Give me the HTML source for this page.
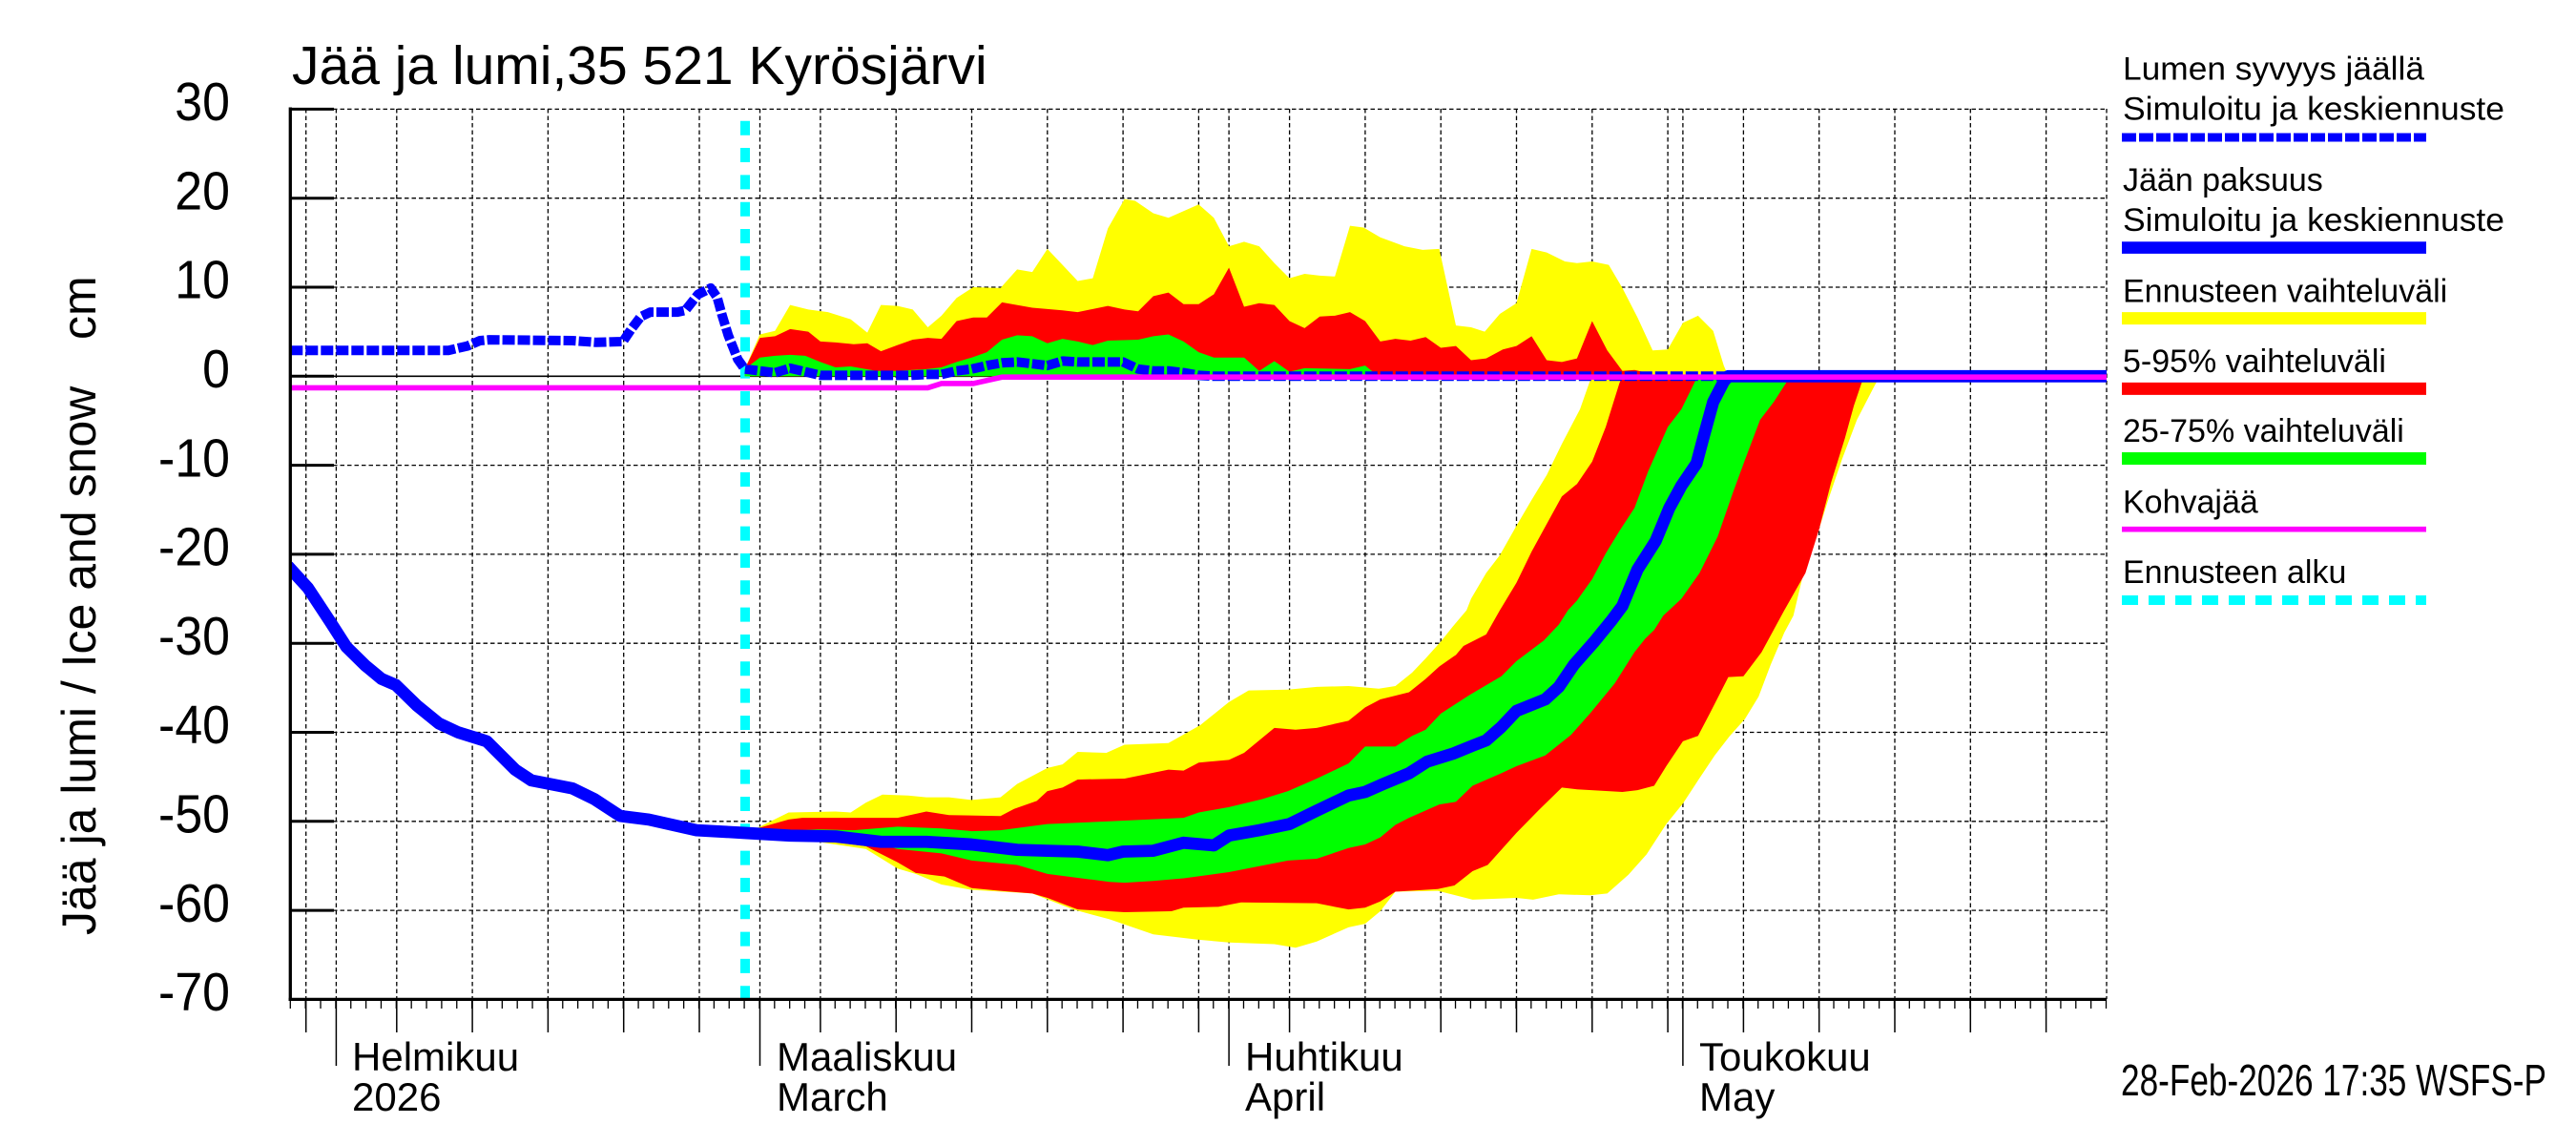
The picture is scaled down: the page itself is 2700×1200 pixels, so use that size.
<!DOCTYPE html>
<html>
<head>
<meta charset="utf-8">
<style>
html,body{margin:0;padding:0;background:#fff;}
svg{display:block;}
text{font-family:"Liberation Sans",Arial,sans-serif;fill:#000;}
</style>
</head>
<body>
<svg xmlns="http://www.w3.org/2000/svg" width="2700" height="1200" viewBox="0 0 2700 1200">
<defs>
<clipPath id="plot"><rect x="304" y="110" width="1904" height="938"/></clipPath>
</defs>
<rect width="2700" height="1200" fill="#fff"/>

<!-- horizontal grid -->
<g stroke="#000" stroke-width="1.3" stroke-dasharray="4.5 3" fill="none">
<line x1="304" y1="114.4" x2="2208" y2="114.4"/>
<line x1="304" y1="207.7" x2="2208" y2="207.7"/>
<line x1="304" y1="301" x2="2208" y2="301"/>
<line x1="304" y1="487.6" x2="2208" y2="487.6"/>
<line x1="304" y1="580.9" x2="2208" y2="580.9"/>
<line x1="304" y1="674.2" x2="2208" y2="674.2"/>
<line x1="304" y1="767.5" x2="2208" y2="767.5"/>
<line x1="304" y1="860.8" x2="2208" y2="860.8"/>
<line x1="304" y1="954.1" x2="2208" y2="954.1"/>
</g>
<!-- vertical grid -->
<g stroke="#000" stroke-width="1.3" stroke-dasharray="4.5 3" fill="none">
<line x1="320.7" y1="114" x2="320.7" y2="1047"/>
<line x1="352.4" y1="114" x2="352.4" y2="1047"/>
<line x1="415.8" y1="114" x2="415.8" y2="1047"/>
<line x1="495.1" y1="114" x2="495.1" y2="1047"/>
<line x1="574.4" y1="114" x2="574.4" y2="1047"/>
<line x1="653.7" y1="114" x2="653.7" y2="1047"/>
<line x1="733" y1="114" x2="733" y2="1047"/>
<line x1="796.5" y1="114" x2="796.5" y2="1047"/>
<line x1="859.9" y1="114" x2="859.9" y2="1047"/>
<line x1="939.2" y1="114" x2="939.2" y2="1047"/>
<line x1="1018.5" y1="114" x2="1018.5" y2="1047"/>
<line x1="1097.8" y1="114" x2="1097.8" y2="1047"/>
<line x1="1177.1" y1="114" x2="1177.1" y2="1047"/>
<line x1="1256.4" y1="114" x2="1256.4" y2="1047"/>
<line x1="1288.1" y1="114" x2="1288.1" y2="1047"/>
<line x1="1351.6" y1="114" x2="1351.6" y2="1047"/>
<line x1="1430.9" y1="114" x2="1430.9" y2="1047"/>
<line x1="1510.2" y1="114" x2="1510.2" y2="1047"/>
<line x1="1589.5" y1="114" x2="1589.5" y2="1047"/>
<line x1="1668.8" y1="114" x2="1668.8" y2="1047"/>
<line x1="1748.1" y1="114" x2="1748.1" y2="1047"/>
<line x1="1763.9" y1="114" x2="1763.9" y2="1047"/>
<line x1="1827.4" y1="114" x2="1827.4" y2="1047"/>
<line x1="1906.7" y1="114" x2="1906.7" y2="1047"/>
<line x1="1986" y1="114" x2="1986" y2="1047"/>
<line x1="2065.3" y1="114" x2="2065.3" y2="1047"/>
<line x1="2144.6" y1="114" x2="2144.6" y2="1047"/>
<line x1="2208" y1="114" x2="2208" y2="1047"/>
</g>

<!-- zero line -->
<line x1="304" y1="394.3" x2="2208" y2="394.3" stroke="#000" stroke-width="1.6"/>

<!-- forecast start -->
<line x1="781" y1="126.7" x2="781" y2="1047" stroke="#00ffff" stroke-width="10" stroke-dasharray="15 13.33"/>

<g clip-path="url(#plot)">
<g transform="translate(780.6 394.3) scale(15.86 -9.33)">
<!-- upper (snow) bands -->
<path fill="#ffff00" d="M0,0 L0,0.8 L1,4.7 L2,5.1 L3,8.0 L4.2,7.5 L5.5,7.2 L7,6.4 L8.1,4.9 L9,8.0 L10.1,7.9 L11.1,7.5 L12.1,5.5 L13,6.8 L14,8.8 L15.1,10 L16.9,9.9 L18,12 L19,11.7 L20,14.3 L21,12.5 L22,10.7 L23,11 L24,16.6 L25.1,19.9 L25.8,19.7 L27,18.3 L28,17.8 L30,19.3 L31,17.8 L32,14.6 L33,15.1 L34,14.6 L35,12.7 L36,11 L37,11.5 L38,11.3 L39,11.2 L40,16.9 L40.9,16.7 L42,15.6 L43.6,14.6 L44.8,14.2 L45.9,14.3 L47,5.7 L48,5.5 L48.9,5 L49.9,7 L51,8.2 L52,14.3 L53,13.9 L54.2,12.9 L55,12.7 L56,12.9 L57.1,12.5 L58,9.9 L59,6.6 L60,2.9 L61,3 L62,6 L63,6.8 L64,5.1 L64.7,1.2 L65,0 Z"/>
<path fill="#ff0000" d="M0,0 L0,0.8 L1,4.3 L2,4.5 L3,5.3 L4.2,5 L5,3.9 L6,3.8 L7.2,3.6 L8.1,3.7 L9,2.8 L10.1,3.5 L11.1,4.1 L12.1,4.3 L13,4.2 L14,6.2 L15.1,6.6 L16,6.6 L17,8.3 L19,7.7 L21,7.4 L22,7.2 L24,7.9 L25.1,7.5 L26,7.3 L27,9 L28,9.4 L29,8.1 L30,8.1 L31,9.2 L32,12.2 L33,7.8 L34,8.2 L35,8 L36,6.2 L37,5.4 L38,6.7 L39,6.8 L40,7.2 L41,6.2 L42,3.9 L43,4.2 L44,4 L45,4.4 L46,3.2 L47,3.4 L48,1.8 L49,2 L50.1,3 L51,3.4 L52,4.5 L53,1.8 L54,1.6 L55,2 L56,6.2 L57,2.9 L58,0.6 L58.8,0.7 L59.6,0.4 L60,0 Z"/>
<path fill="#00ff00" d="M0,0 L0,0.8 L1,2.1 L2,2.3 L3,2.4 L4,2.3 L5,1.6 L6,1 L7,1.1 L8.7,0.6 L10,0.6 L12,0.8 L13,1 L14,1.6 L15,2.1 L16,2.7 L17,4.1 L18,4.6 L19,4.5 L20,3.7 L21,4.2 L22,3.9 L23,3.5 L24,4 L26,4.1 L27,4.5 L28,4.7 L29,3.9 L30,2.7 L31,2.1 L33,2.1 L34,0.6 L35,1.7 L36,0.5 L37,0.9 L40,0.8 L41,1.2 L41.5,0.5 L42,0 Z"/>
<!-- lower (ice) bands -->
<path fill="#ffff00" d="M0,-51.3 L1,-50.6 L2.9,-49 L6,-48.9 L7,-49 L8,-47.9 L9.1,-47 L10.8,-47.1 L12,-47.3 L13.5,-47.3 L15,-47.6 L16.9,-47.3 L18,-45.8 L20,-44 L21,-43.6 L22,-42.2 L23.9,-42.3 L25.1,-41.4 L28,-41.2 L30.1,-39.2 L32,-36.6 L33.3,-35.3 L35.9,-35.2 L37.8,-34.9 L39.9,-34.8 L41.9,-35.1 L43,-34.8 L44.1,-33.3 L45,-31.7 L46,-29.8 L46.8,-28.1 L47.7,-26.3 L48,-25 L49,-22.1 L49.9,-20.1 L51,-16.8 L52,-13.9 L53,-11.1 L54,-7.6 L55.2,-3.7 L55.8,-0.8 L56,0 L75,0 L74.5,-1.6 L73.5,-4.9 L72.5,-9.4 L71.6,-13.9 L70.6,-19.3 L69.9,-22.6 L69.3,-26.9 L68.7,-28.8 L67.8,-32.4 L67,-36 L66.1,-38.5 L65.1,-40.4 L64.1,-42.6 L63,-45.4 L62,-48 L60.9,-50.3 L59.6,-53.7 L58.4,-56 L57,-58.1 L55.9,-58.3 L53.8,-58.2 L52.1,-58.8 L51,-58.6 L48.1,-58.8 L45.8,-57.8 L43,-57.9 L42,-60.1 L41,-61.5 L39.9,-61.9 L37.8,-63.5 L36.4,-64.2 L35,-63.8 L32,-63.6 L30,-63.3 L27,-62.7 L24.1,-61 L21.7,-59.9 L19,-58.1 L15,-57.7 L13,-57.1 L11.3,-55.9 L10.1,-55.3 L8,-53.1 L4.8,-52.3 L1,-50.7 Z"/>
<path fill="#ff0000" d="M0,-51.3 L1,-50.7 L2.9,-49.8 L3.8,-49.6 L7.2,-49.6 L10.1,-49.6 L12,-48.9 L13.5,-49.3 L16.9,-49.4 L17.8,-48.6 L19.3,-47.7 L20,-46.6 L21,-46.2 L22,-45.3 L25.1,-45.2 L28,-44.2 L29,-44.3 L30,-43.4 L32,-43.1 L33,-42.3 L35,-39.5 L36.4,-39.7 L37.8,-39.5 L39.9,-38.7 L41,-37.2 L42,-36.3 L43.9,-35.5 L45,-34 L45.9,-32.6 L47,-31.3 L47.5,-30.3 L49,-29 L49.9,-26.3 L51,-23.2 L52,-19.7 L53,-16.6 L54,-13.5 L55,-12.1 L56,-9.6 L56.9,-5.7 L57.8,-0.8 L58,0 L74,0 L73.8,-0.8 L73.3,-3.3 L72.7,-7 L71.8,-11.9 L71,-17.2 L70.1,-22.1 L69.2,-24.8 L68.7,-26.3 L67.2,-31 L66,-33.7 L65,-33.8 L63.8,-37.8 L63,-40.4 L62,-41 L60.9,-43.8 L60.1,-46 L59,-46.5 L58,-46.7 L55,-46.4 L54,-46.2 L52.5,-48.7 L51,-51.3 L49.1,-54.9 L48.1,-55.6 L46.9,-57.2 L45.8,-57.6 L43,-57.9 L42,-59 L41,-59.7 L39.9,-59.9 L37.8,-59.2 L32.8,-59.1 L31.3,-59.6 L29,-59.7 L28.2,-60.1 L25.1,-60.2 L22,-59.9 L20,-58.6 L19,-58.1 L16.9,-57.8 L15,-57.5 L13.2,-56.2 L11.3,-55.8 L10.1,-54.6 L8,-52.8 L4.8,-52.1 L1,-50.8 Z"/>
<path fill="#00ff00" d="M0,-51.3 L4.8,-50.9 L7.2,-51 L10.1,-50.6 L13,-50.8 L15,-51.1 L16.9,-51 L20,-50.3 L24.1,-50 L29,-49.6 L30,-49 L32,-48.4 L34.2,-47.5 L35.9,-46.6 L37.8,-45.2 L39.9,-43.5 L41,-41.6 L43,-41.6 L44.1,-40.4 L45,-39.7 L46,-37.9 L47.9,-35.8 L50,-33.7 L51,-32 L52.8,-29.7 L53.8,-27.9 L54.4,-26.3 L55,-25.2 L56,-22.8 L56.9,-19.9 L57.8,-17.4 L58.8,-14.8 L59.7,-10.7 L61,-5.7 L61.9,-3.7 L62.8,-0.6 L63,0 L69,0 L68.8,-0.8 L68,-2.9 L67.1,-4.9 L66.1,-9.4 L65.3,-13.1 L64.3,-18 L63.1,-22.1 L61.9,-25 L60.7,-26.9 L60.1,-28.5 L59.5,-29.5 L58.8,-31 L57.5,-34.5 L55.9,-37.8 L54.6,-40.3 L52.9,-42.6 L51,-43.8 L50,-44.6 L48.1,-46 L47,-47.8 L45.9,-48.1 L43.9,-49.6 L43,-50.4 L42,-51.8 L41,-52.6 L39.9,-53 L37.8,-54.2 L35.9,-54.4 L32,-55.7 L29,-56.4 L27,-56.7 L25.1,-56.9 L24.1,-56.8 L20,-55.9 L18,-54.9 L15,-54.4 L13,-53.6 L10.1,-53.1 L7.2,-51.8 L4.8,-51.1 Z"/>
</g>

<!-- snow depth line -->
<polyline fill="none" stroke="#0000ff" stroke-width="10" stroke-dasharray="13 3" stroke-linejoin="round" points="304.3,367.2 470,367.2 490,362.6 503,357 513,356.1 600,357 625,358.8 653,357.9 661.7,344.9 671.7,331.8 681.7,327.1 710,327.1 718.3,325.3 731.7,308.5 745,301.9 751.7,311.7 756.7,329.9 763.3,351.4 773.3,376.6 780.6,386.8 796.5,388.7 812.3,390.6 828.2,385.9 844,389.6 859.9,393.4 955.1,393.4 970.9,392.4 986.8,392.4 1002.6,388.7 1018.5,386.8 1034.4,383.1 1050.2,380.3 1066.1,379.4 1081.9,381.2 1097.8,383.1 1113.7,378.4 1129.5,379.4 1177.1,379.4 1193,386.8 1208.8,388.7 1224.7,388.7 1240.5,390.6 1256.4,393.4 1272.3,394.3 2208,394.3"/>

<g transform="translate(780.6 394.3) scale(15.86 -9.33)">
<!-- ice thickness -->
<path fill="none" stroke="#0000ff" stroke-width="12.8" vector-effect="non-scaling-stroke" stroke-linejoin="round" d="M-30.2,-21.3 L-28.86,-23.8 L-27.35,-27.7 L-26.33,-30.4 L-25.07,-32.5 L-24,-34 L-23.05,-34.7 L-21.66,-37 L-20.21,-39 L-18.95,-40 L-17.06,-41 L-15.17,-44.2 L-14.1,-45.4 L-11.39,-46.3 L-9.94,-47.5 L-8.23,-49.4 L-6.34,-49.8 L-3.19,-51 L0,-51.3 L3,-51.6 L6,-51.7 L9,-52.3 L12,-52.3 L15,-52.6 L18,-53.2 L20,-53.3 L22,-53.4 L24,-53.8 L25,-53.4 L27,-53.3 L29,-52.4 L31,-52.7 L32,-51.6 L34,-51 L36,-50.3 L37.8,-48.8 L39.9,-47.1 L41,-46.7 L42.2,-45.8 L43.9,-44.6 L45.1,-43.3 L46.8,-42.4 L48.1,-41.5 L49,-40.9 L50,-39.4 L51,-37.6 L52.9,-36.3 L53.8,-34.9 L54.8,-32.4 L56.1,-29.9 L57.3,-27.4 L58,-25.8 L59,-21.7 L60.2,-18.5 L61.1,-14.8 L61.9,-12.3 L62.9,-9.8 L63.4,-6.6 L64,-2.9 L64.7,-0.6 L65,0 L90,0"/>
<!-- slush ice -->
<path fill="none" stroke="#ff00ff" stroke-width="5.6" vector-effect="non-scaling-stroke" d="M-30.2,-1.3 L12.1,-1.3 L13,-0.82 L15.1,-0.82 L17,-0.1 L90,-0.1"/>
</g>
</g>

<!-- axes -->
<line x1="304.3" y1="112.5" x2="304.3" y2="1049" stroke="#000" stroke-width="3.3"/>
<line x1="302.6" y1="1047.4" x2="2208" y2="1047.4" stroke="#000" stroke-width="3.3"/>
<g stroke="#000" stroke-width="3">
<line x1="304" y1="114.4" x2="350" y2="114.4"/>
<line x1="304" y1="207.7" x2="350" y2="207.7"/>
<line x1="304" y1="301" x2="350" y2="301"/>
<line x1="304" y1="394.3" x2="350" y2="394.3"/>
<line x1="304" y1="487.6" x2="350" y2="487.6"/>
<line x1="304" y1="580.9" x2="350" y2="580.9"/>
<line x1="304" y1="674.2" x2="350" y2="674.2"/>
<line x1="304" y1="767.5" x2="350" y2="767.5"/>
<line x1="304" y1="860.8" x2="350" y2="860.8"/>
<line x1="304" y1="954.1" x2="350" y2="954.1"/>
</g>
<!-- daily ticks -->
<line x1="303.65" y1="1052" x2="2209.5" y2="1052" stroke="#000" stroke-width="10" stroke-dasharray="1.3 14.56"/>
<!-- 5-day ticks -->
<g stroke="#000" stroke-width="1.5">
<line x1="320.7" y1="1047" x2="320.7" y2="1082"/>
<line x1="415.8" y1="1047" x2="415.8" y2="1082"/>
<line x1="495.1" y1="1047" x2="495.1" y2="1082"/>
<line x1="574.4" y1="1047" x2="574.4" y2="1082"/>
<line x1="653.7" y1="1047" x2="653.7" y2="1082"/>
<line x1="733" y1="1047" x2="733" y2="1082"/>
<line x1="859.9" y1="1047" x2="859.9" y2="1082"/>
<line x1="939.2" y1="1047" x2="939.2" y2="1082"/>
<line x1="1018.5" y1="1047" x2="1018.5" y2="1082"/>
<line x1="1097.8" y1="1047" x2="1097.8" y2="1082"/>
<line x1="1177.1" y1="1047" x2="1177.1" y2="1082"/>
<line x1="1256.4" y1="1047" x2="1256.4" y2="1082"/>
<line x1="1351.6" y1="1047" x2="1351.6" y2="1082"/>
<line x1="1430.9" y1="1047" x2="1430.9" y2="1082"/>
<line x1="1510.2" y1="1047" x2="1510.2" y2="1082"/>
<line x1="1589.5" y1="1047" x2="1589.5" y2="1082"/>
<line x1="1668.8" y1="1047" x2="1668.8" y2="1082"/>
<line x1="1748.1" y1="1047" x2="1748.1" y2="1082"/>
<line x1="1827.4" y1="1047" x2="1827.4" y2="1082"/>
<line x1="1906.7" y1="1047" x2="1906.7" y2="1082"/>
<line x1="1986" y1="1047" x2="1986" y2="1082"/>
<line x1="2065.3" y1="1047" x2="2065.3" y2="1082"/>
<line x1="2144.6" y1="1047" x2="2144.6" y2="1082"/>
<line x1="352.4" y1="1047" x2="352.4" y2="1117"/>
<line x1="796.5" y1="1047" x2="796.5" y2="1117"/>
<line x1="1288.1" y1="1047" x2="1288.1" y2="1117"/>
<line x1="1763.9" y1="1047" x2="1763.9" y2="1117"/>
</g>

<!-- title -->
<text x="306" y="88" font-size="57">Jää ja lumi,35 521 Kyrösjärvi</text>

<!-- y tick labels -->
<g transform="translate(241 0) scale(0.91 1)" font-size="57" text-anchor="end">
<text x="0" y="126.1">30</text>
<text x="0" y="219.4">20</text>
<text x="0" y="312.7">10</text>
<text x="0" y="406">0</text>
<text x="0" y="499.3">-10</text>
<text x="0" y="592.6">-20</text>
<text x="0" y="685.9">-30</text>
<text x="0" y="779.2">-40</text>
<text x="0" y="872.5">-50</text>
<text x="0" y="965.8">-60</text>
<text x="0" y="1059.1">-70</text>
</g>

<!-- y axis title -->
<text transform="translate(100 980) rotate(-90)" font-size="50">Jää ja lumi / Ice and snow</text>
<text transform="translate(100 356) rotate(-90)" font-size="50">cm</text>

<!-- month labels -->
<g font-size="42">
<text x="369" y="1122">Helmikuu</text>
<text x="369" y="1164">2026</text>
<text x="814" y="1122">Maaliskuu</text>
<text x="814" y="1164">March</text>
<text x="1305" y="1122">Huhtikuu</text>
<text x="1305" y="1164">April</text>
<text x="1781" y="1122">Toukokuu</text>
<text x="1781" y="1164">May</text>
</g>

<!-- timestamp -->
<text x="2223" y="1148" font-size="46" textLength="446" lengthAdjust="spacingAndGlyphs">28-Feb-2026 17:35 WSFS-P</text>

<!-- legend -->
<g font-size="34">
<text x="2225" y="83.4" textLength="316" lengthAdjust="spacingAndGlyphs">Lumen syvyys jäällä</text>
<text x="2225" y="125.4" textLength="400" lengthAdjust="spacingAndGlyphs">Simuloitu ja keskiennuste</text>
<text x="2225" y="199.8">Jään paksuus</text>
<text x="2225" y="241.8" textLength="400" lengthAdjust="spacingAndGlyphs">Simuloitu ja keskiennuste</text>
<text x="2225" y="316.3">Ennusteen vaihteluväli</text>
<text x="2225" y="389.9">5-95% vaihteluväli</text>
<text x="2225" y="463.2">25-75% vaihteluväli</text>
<text x="2225" y="537.6">Kohvajää</text>
<text x="2225" y="610.9">Ennusteen alku</text>
</g>
<line x1="2224" y1="144" x2="2543" y2="144" stroke="#0000ff" stroke-width="9" stroke-dasharray="15 3"/>
<line x1="2224" y1="259.6" x2="2543" y2="259.6" stroke="#0000ff" stroke-width="12.6"/>
<line x1="2224" y1="333.6" x2="2543" y2="333.6" stroke="#ffff00" stroke-width="13"/>
<line x1="2224" y1="407.4" x2="2543" y2="407.4" stroke="#ff0000" stroke-width="13"/>
<line x1="2224" y1="480.5" x2="2543" y2="480.5" stroke="#00ff00" stroke-width="13"/>
<line x1="2224" y1="554.7" x2="2543" y2="554.7" stroke="#ff00ff" stroke-width="5.7"/>
<line x1="2224" y1="629" x2="2543" y2="629" stroke="#00ffff" stroke-width="10" stroke-dasharray="17 11"/>
</svg>
</body>
</html>
